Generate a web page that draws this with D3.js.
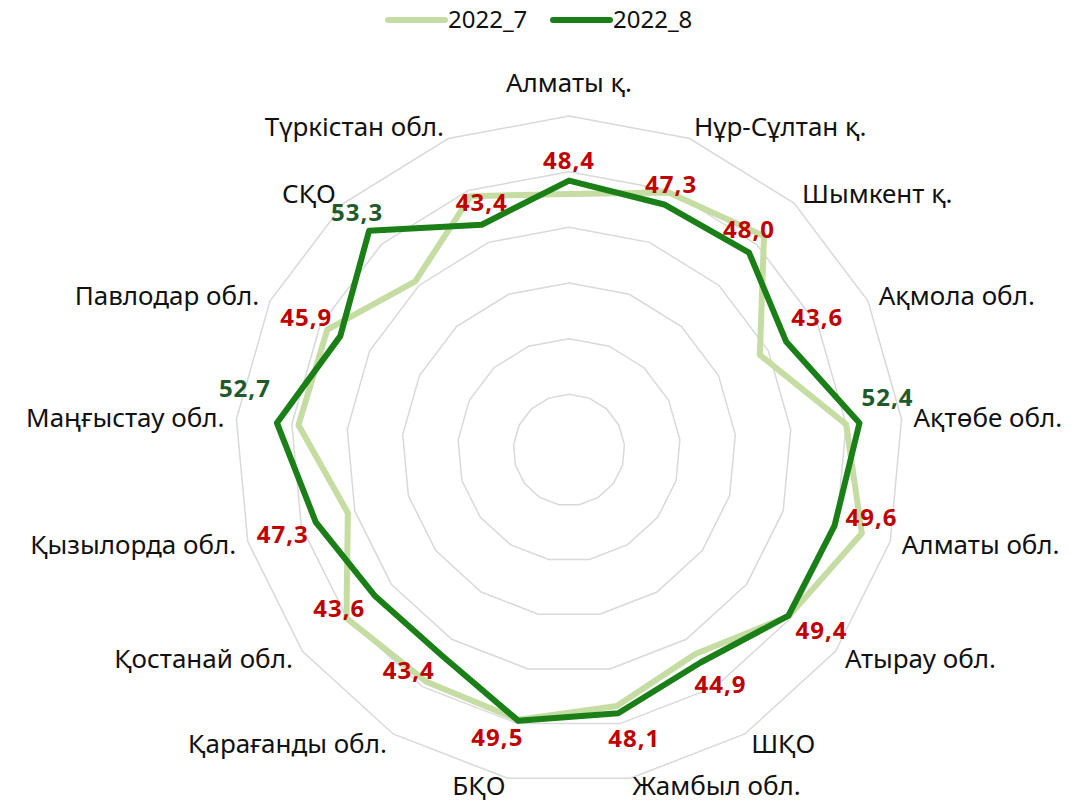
<!DOCTYPE html>
<html lang="kk">
<head>
<meta charset="UTF-8">
<title>2022_7 / 2022_8</title>
<script src="https://cdn.jsdelivr.net/npm/d3@7"></script>
<style>
  body { margin: 0; background: #fff; font-family: "Noto Sans", sans-serif; }
  .cat { font-size: 26px; fill: #111; }
  .val { font-size: 24px; font-weight: bold; letter-spacing: 1px; }
  .legend text { font-size: 24px; fill: #111; }
</style>
</head>
<body>
<div id="chart"></div>
<script>
// categories go clockwise from the top
const categories = ["Алматы қ.", "Нұр-Сұлтан қ.", "Шымкент қ.", "Ақмола обл.", "Ақтөбе обл.",
  "Алматы обл.", "Атырау обл.", "ШҚО", "Жамбыл обл.", "БҚО", "Қарағанды обл.",
  "Қостанай обл.", "Қызылорда обл.", "Маңғыстау обл.", "Павлодар обл.", "СҚО", "Түркістан обл."];
const values2022_7 = [46.0, 49.6, 52.0, 38.3, 50.0, 54.7, 49.5, 43.1, 46.8, 49.3, 48.9, 50.1, 41.3, 48.8, 48.5, 41.0, 48.9];
const values2022_8 = [48.4, 47.3, 48.0, 43.6, 52.4, 49.6, 49.4, 44.9, 48.1, 49.5, 43.4, 43.6, 47.3, 52.7, 45.9, 53.3, 43.4];
const gridLevels = [10, 20, 30, 40, 50, 60];
const seriesNames = ["2022_7", "2022_8"];

// nudges for the value labels (px), Excel placed them by hand
const labelOffsets = [[0, -20], [7, -20], [0, -23], [31, -24], [28, -26], [37, -8], [33, 15], [20, 22],
  [16, 25], [-21, 17], [-33, 15], [-36, 12], [-33, 13], [-32, -34], [-34, -19], [-12, -18], [0, -22]];

const width = 1083, height = 805;
const cx = 569, cy = 450, radius = 334;
const lightColor = "#c5dca2", darkColor = "#1a7f16";

const svg = d3.select("#chart").append("svg")
    .attr("width", width)
    .attr("height", height);

const g = svg.append("g").attr("transform", `translate(${cx},${cy})`);

const r = d3.scaleLinear().domain([0, 60]).range([0, radius]);
const angle = d3.scaleLinear().domain([0, categories.length]).range([0, 2 * Math.PI]);
const px = (v, i) => r(v) * Math.sin(angle(i));
const py = (v, i) => -r(v) * Math.cos(angle(i));

const radial = d3.lineRadial()
    .angle((d, i) => angle(i))
    .radius(d => r(d))
    .curve(d3.curveLinearClosed);

// grid rings
g.selectAll(".grid")
    .data(gridLevels)
    .join("path")
    .attr("class", "grid")
    .attr("d", lv => radial(categories.map(() => lv)))
    .attr("fill", "none")
    .attr("stroke", "#d9d9d9")
    .attr("stroke-width", 1.5);

// series lines
g.append("path")
    .attr("d", radial(values2022_7))
    .attr("fill", "none")
    .attr("stroke", lightColor)
    .attr("stroke-width", 6)
    .attr("stroke-linejoin", "round");

g.append("path")
    .attr("d", radial(values2022_8))
    .attr("fill", "none")
    .attr("stroke", darkColor)
    .attr("stroke-width", 6)
    .attr("stroke-linejoin", "round");

// value labels for 2022_8
const fmt = v => d3.format(".1f")(v).replace(".", ",");
g.selectAll(".val")
    .data(values2022_8)
    .join("text")
    .attr("class", "val")
    .attr("x", (d, i) => px(d, i) + labelOffsets[i][0])
    .attr("y", (d, i) => py(d, i) + labelOffsets[i][1])
    .attr("dy", "0.35em")
    .attr("text-anchor", "middle")
    .attr("fill", d => d > 50 ? "#1e5a2c" : "#c00000")
    .text(fmt);

// category labels, bottom ones kept inside the frame
const labelR = radius + 12;
const maxY = height - cy - 19;
g.selectAll(".cat")
    .data(categories)
    .join("text")
    .attr("class", "cat")
    .attr("x", (d, i) => labelR * Math.sin(angle(i)))
    .attr("y", (d, i) => i === 0 ? -radius - 24 : Math.min(maxY, -labelR * Math.cos(angle(i))))
    .attr("dy", (d, i) => i === 0 ? null : "0.35em")
    .attr("text-anchor", (d, i) => i === 0 ? "middle" : (angle(i) < Math.PI ? "start" : "end"))
    .text(d => d);

// legend
const legend = svg.append("g").attr("class", "legend");
const legendItems = legend.selectAll("g")
    .data(seriesNames)
    .join("g")
    .attr("transform", (d, i) => `translate(${388 + i * 165},20)`);
legendItems.append("line")
    .attr("x1", 0).attr("x2", 57)
    .attr("stroke", (d, i) => i === 0 ? lightColor : darkColor)
    .attr("stroke-width", 6)
    .attr("stroke-linecap", "round");
legendItems.append("text")
    .attr("x", 60)
    .attr("dy", "0.35em")
    .text(d => d);
</script>
</body>
</html>
